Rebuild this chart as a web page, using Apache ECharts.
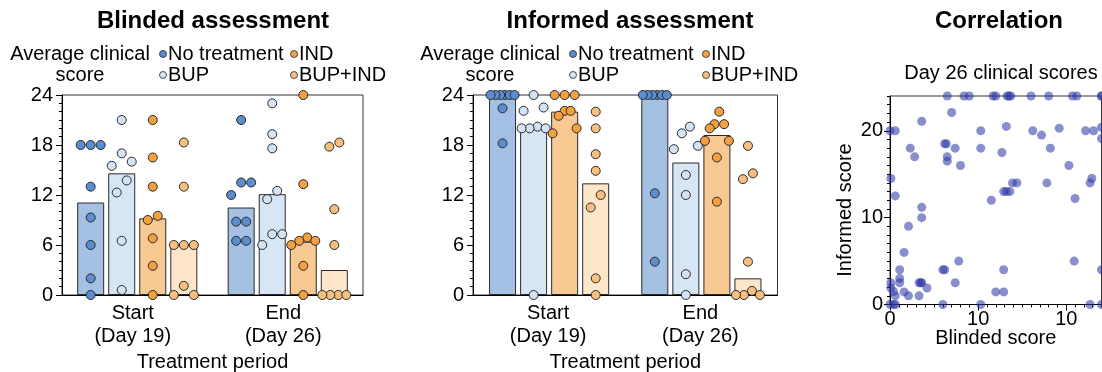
<!DOCTYPE html>
<html>
<head>
<meta charset="utf-8">
<title>Clinical scores</title>
<script src="https://cdn.jsdelivr.net/npm/echarts@6/dist/echarts.min.js"></script>
<style>
  html, body { margin: 0; padding: 0; background: #fff; }
  #chart { width: 1102px; height: 372px; }
</style>
</head>
<body>
<div id="chart"></div>
<script>
// ---- data ----
const periods = ['Start\n(Day 19)', 'End\n(Day 26)'];
const groups = ['No treatment', 'BUP', 'IND', 'BUP+IND'];

// bar heights per group: [Start, End]
const blindedBars = [[11.1, 10.5], [14.6, 12.1], [9.2, 6.4], [6.0, 3.0]];
const informedBars = [[24, 24], [20.0, 15.9], [22.0, 19.2], [13.4, 2.0]];

// individual animals, per group
const blindedStart = [
  [18, 18, 18, 13, 9.3, 6, 2, 0],
  [21, 17, 16, 15.5, 13.75, 12.3, 6.5, 0.6],
  [21, 16.5, 13, 9.5, 9, 6.8, 3.5, 0],
  [18.3, 13, 6, 6, 6, 1.1, 0, 0]
];
const blindedEnd = [
  [21, 13.5, 13.5, 12, 8.8, 8.8, 6.5, 6.5],
  [23, 19.3, 17.6, 12.5, 11.5, 7.3, 7.3, 6],
  [24, 13.3, 6.9, 6.5, 6.5, 6.0, 3.5, 0],
  [18.3, 17.8, 10.3, 6, 0, 0, 0, 0]
];
const informedStart = [
  [24, 24, 24, 24, 24, 24, 22.4, 18.2],
  [24, 22.5, 22.1, 20.2, 20, 20, 20, 0],
  [24, 24, 24, 22.1, 22.1, 21.5, 20, 19.4],
  [22, 20, 16.9, 14.9, 12, 10.5, 2, 0]
];
const informedEnd = [
  [24, 24, 24, 24, 24, 24, 12.2, 4],
  [20.2, 19.4, 17.9, 17.5, 14.4, 12, 2.5, 0],
  [22, 20.5, 20.5, 20, 18.5, 18.5, 16.5, 11.2],
  [17.9, 14.6, 13.9, 4, 0.5, 0, 0, 0]
];

// Day 26 paired scores (blinded, informed)
const day26Blinded = [
  6.5, 8.4, 9.0, 11.7, 12.0, 13.3, 13.5, 13.7, 16.0, 18.0, 20.7, 21.2, 24, 24,
  0, 0.6, 10.3, 16.2, 17.2, 19.2, 22.2, 23.1, 24, 24, 13.2, 3.6, 7.0,
  2.3, 6.2, 6.4, 7.4, 10.3, 18.2, 12.7,
  2.8, 6.5, 6.5, 8.0, 20.3,
  0.1, 13.9, 14.4, 17.8, 22.7, 22.9,
  0.6, 11.5, 12.9, 13.2, 13.6, 21.0,
  3.6, 3.6, 2.1, 1.6,
  1.1, 6.0, 6.2, 7.8, 12.9, 20.9, 24,
  1.1, 1.1, 0.1, 0.1, 3.3, 3.5, 3.6, 4.2, 7.4, 1.6, 12.0, 12.9, 0.6, 2.1, 3.3, 0.4,
  0, 0.4, 0.6, 6.0, 10.3, 22.7, 24
];
const day26Informed = [
  24, 24, 24, 24, 24, 24, 24, 24, 24, 24, 24, 24, 24, 24,
  20, 20, 20, 20, 19.5, 20.3, 20, 20, 20.4, 19.1, 20.5, 21.1, 22.1,
  18, 18.5, 18.5, 18, 18, 18, 17.5,
  17, 17, 16.5, 16, 16,
  14.5, 14, 14, 14, 14, 14.5,
  12.5, 12, 13, 13, 13, 12.2,
  11.2, 10, 9, 6,
  4, 4, 4, 5, 4, 5, 4,
  3, 2.5, 2.5, 1.9, 2.5, 2.5, 2.5, 1.9, 2.5, 1.45, 1.45, 1.45, 1, 1, 1, 1.5,
  0, 0, 0, 0, 0, 0, 0
];

const scoreTicks = [0, 6, 12, 18, 24];
const corrTicks = [0, 10, 20];
const corrXTickLabels = ['0', '10', '10'];
const corrYTickLabels = ['0', '10', '20'];

// ---- styling ----
const FONT = 'Liberation Sans, Arial, Helvetica, sans-serif';
const barColors = ['#a4c1e4', '#d7e6f5', '#f9c993', '#fde6c9'];
const dotColors = ['#5b8dd0', '#d3e3f4', '#f4a040', '#f8c07f'];
const EDGE = '#2a2a2a';

// panel geometry (px)
const panels = [
  { left: 62, top: 95, width: 301, height: 200, title: 'Blinded assessment', titleX: 208,
    legendX: 80, cols: [163, 294], labelPad: [0, 9, 0, 0] },
  { left: 473, top: 95, width: 304.5, height: 200, title: 'Informed assessment', titleX: 625,
    legendX: 490, cols: [573, 706], labelPad: [0, 2, 0, 0] }
];
const corrGrid = { left: 890, top: 96, width: 211.5, height: 208.5 };

const BAR_W = 27;
const BAR_GAP = 0.15;
const DOT = 9;
const ROW_STEP = 10;      // horizontal spacing between dots sharing a row
const ROW_CHAIN = 12.5;   // vertical distance (px) that joins dots into a row
const ROW_HALF = 12;      // max horizontal spread from the bar centre

// spread dots of one group horizontally so they do not overlap
function swarm(values, pxPerUnit) {
  const order = values.map((v, i) => i).sort((a, b) => values[b] - values[a]);
  const offsets = new Array(values.length).fill(0);
  const rows = [];
  let row = [];
  order.forEach(i => {
    if (row.length && (values[row[row.length - 1]] - values[i]) * pxPerUnit > ROW_CHAIN) {
      rows.push(row);
      row = [];
    }
    row.push(i);
  });
  if (row.length) rows.push(row);
  rows.forEach(r => {
    const n = r.length;
    const half = (n - 1) / 2 * ROW_STEP;
    const k = half > ROW_HALF ? ROW_HALF / half : 1;
    const slots = r.map((_, j) => (j - (n - 1) / 2) * ROW_STEP * k)
      .sort((a, b) => Math.abs(a) - Math.abs(b) || b - a);
    r.forEach((i, j) => { offsets[i] = slots[j]; });
  });
  return offsets;
}

function dotSeries(panelIdx, startSets, endSets) {
  const p = panels[panelIdx];
  const catW = p.width / 2;
  const pxPerUnit = p.height / 24;
  return groups.map((name, g) => {
    const barOffset = (g - 1.5) * BAR_W * (1 + BAR_GAP);
    const data = [];
    [startSets[g], endSets[g]].forEach((vals, period) => {
      const off = swarm(vals, pxPerUnit);
      vals.forEach((v, i) => {
        data.push([period + 0.5 + (barOffset + off[i]) / catW, v]);
      });
    });
    return {
      name: name,
      type: 'scatter',
      xAxisIndex: panelIdx * 2 + 1,
      yAxisIndex: panelIdx,
      symbol: 'circle',
      symbolSize: DOT,
      z: 5,
      clip: false,
      itemStyle: { color: dotColors[g], borderColor: EDGE, borderWidth: 1, opacity: 1 },
      emphasis: { disabled: true },
      data: data
    };
  });
}

function barSeries(panelIdx, bars) {
  return groups.map((name, g) => ({
    name: name,
    type: 'bar',
    xAxisIndex: panelIdx * 2,
    yAxisIndex: panelIdx,
    barWidth: BAR_W,
    barGap: (BAR_GAP * 100) + '%',
    z: 2,
    itemStyle: { color: barColors[g], borderColor: EDGE, borderWidth: 1 },
    emphasis: { disabled: true },
    data: bars[g]
  }));
}

const labelStyle = { color: '#000', fontFamily: FONT, fontSize: 20 };

const xAxes = [];
const yAxes = [];
panels.forEach((p, i) => {
  xAxes.push({
    gridIndex: i,
    type: 'category',
    data: periods,
    axisTick: { show: false },
    axisLine: { lineStyle: { color: '#000', width: 1 } },
    axisLabel: Object.assign({ margin: 7, lineHeight: 23, padding: p.labelPad }, labelStyle),
    name: 'Treatment period',
    nameLocation: 'middle',
    nameGap: 52,
    nameTextStyle: Object.assign({ lineHeight: 20 }, labelStyle)
  });
  xAxes.push({ gridIndex: i, type: 'value', min: 0, max: 2, show: false });
  yAxes.push({
    gridIndex: i,
    type: 'value',
    min: scoreTicks[0],
    max: scoreTicks[scoreTicks.length - 1],
    interval: scoreTicks[1] - scoreTicks[0],
    axisLine: { show: true, lineStyle: { color: '#000', width: 1 } },
    axisTick: { show: true, length: 6, lineStyle: { color: '#000' } },
    minorTick: { show: true, splitNumber: 6, length: 3, lineStyle: { color: '#000' } },
    splitLine: { show: false },
    axisLabel: Object.assign({ margin: 9 }, labelStyle)
  });
});

// correlation panel: fine ticks every unit, longer ticks at labelled values
xAxes.push({
  gridIndex: 2, type: 'value', position: 'bottom', min: 0, max: 24, interval: 1,
  axisLine: { show: true, lineStyle: { color: '#000' } },
  axisTick: { show: true, length: 3, lineStyle: { color: '#000' } },
  splitLine: { show: false },
  axisLabel: Object.assign({
    margin: 5,
    customValues: corrTicks,
    formatter: v => corrXTickLabels[corrTicks.indexOf(v)]
  }, labelStyle),
  name: 'Blinded score', nameLocation: 'middle', nameGap: 24, nameMoveOverlap: false,
  nameTextStyle: Object.assign({ lineHeight: 20 }, labelStyle)
});
xAxes.push({
  gridIndex: 2, type: 'value', position: 'bottom', offset: 0, min: 0, max: 24,
  axisLine: { show: false },
  axisTick: { show: true, length: 6, customValues: corrTicks, lineStyle: { color: '#000' } },
  axisLabel: { show: false },
  splitLine: { show: false }
});
yAxes.push({
  gridIndex: 2, type: 'value', position: 'left', min: 0, max: 24, interval: 1,
  axisLine: { show: true, lineStyle: { color: '#000' } },
  axisTick: { show: true, length: 3, lineStyle: { color: '#000' } },
  splitLine: { show: false },
  axisLabel: Object.assign({
    margin: 7,
    customValues: corrTicks,
    formatter: v => corrYTickLabels[corrTicks.indexOf(v)]
  }, labelStyle)
});
yAxes.push({
  gridIndex: 2, type: 'value', position: 'left', offset: 0, min: 0, max: 24,
  axisLine: { show: false },
  axisTick: { show: true, length: 6, customValues: corrTicks, lineStyle: { color: '#000' } },
  axisLabel: { show: false },
  splitLine: { show: false }
});

// legends and panel captions
const graphic = [];
panels.forEach(p => {
  graphic.push({ type: 'text', x: p.legendX, y: 54, silent: true,
    style: { text: 'Average clinical', fontFamily: FONT, fontSize: 20, fill: '#000', align: 'center', verticalAlign: 'middle' } });
  graphic.push({ type: 'text', x: p.legendX, y: 75, silent: true,
    style: { text: 'score', fontFamily: FONT, fontSize: 20, fill: '#000', align: 'center', verticalAlign: 'middle' } });
  groups.forEach((name, g) => {
    const cx = p.cols[g >= 2 ? 1 : 0];
    const cy = g % 2 === 0 ? 54 : 75;
    graphic.push({ type: 'circle', silent: true, shape: { cx: cx, cy: cy, r: 3.5 },
      style: { fill: dotColors[g], stroke: EDGE, lineWidth: 0.8 } });
    graphic.push({ type: 'text', x: cx + 5, y: cy, silent: true,
      style: { text: name, fontFamily: FONT, fontSize: 20, fill: '#000', align: 'left', verticalAlign: 'middle' } });
  });
});
graphic.push({ type: 'text', x: 845, y: 210, rotation: Math.PI / 2, silent: true,
  style: { text: 'Informed score', fontFamily: FONT, fontSize: 20, fill: '#000', align: 'center', verticalAlign: 'middle' } });

const titleStyle = { fontFamily: FONT, fontSize: 24, fontWeight: 'bold', color: '#000' };

function gridOf(g) {
  return {
    left: g.left, top: g.top, width: g.width, height: g.height,
    outerBoundsMode: 'none', containLabel: false,
    show: true, borderColor: '#333', borderWidth: 1, backgroundColor: 'transparent'
  };
}

const option = {
  animation: false,
  backgroundColor: '#fff',
  title: [
    { text: panels[0].title, left: panels[0].titleX, top: 4, textAlign: 'center', textStyle: titleStyle },
    { text: panels[1].title, left: panels[1].titleX, top: 4, textAlign: 'center', textStyle: titleStyle },
    { text: 'Correlation', left: 994, top: 4, textAlign: 'center', textStyle: titleStyle },
    { text: 'Day 26 clinical scores', left: 996, top: 58, textAlign: 'center',
      textStyle: { fontFamily: FONT, fontSize: 20, fontWeight: 'normal', color: '#000' } }
  ],
  grid: [gridOf(panels[0]), gridOf(panels[1]), gridOf(corrGrid)],
  xAxis: xAxes,
  yAxis: yAxes,
  graphic: graphic,
  series: [].concat(
    barSeries(0, blindedBars),
    dotSeries(0, blindedStart, blindedEnd),
    barSeries(1, informedBars),
    dotSeries(1, informedStart, informedEnd),
    [{
      name: 'Day 26',
      type: 'scatter',
      xAxisIndex: 4,
      yAxisIndex: 2,
      symbol: 'circle',
      symbolSize: 9,
      clip: false,
      itemStyle: { color: 'rgba(45,55,166,0.7)' },
      emphasis: { disabled: true },
      data: day26Blinded.map((b, i) => [b, day26Informed[i]])
    }]
  )
};

const chart = echarts.init(document.getElementById('chart'), null, { renderer: 'canvas' });
chart.setOption(option);
</script>
</body>
</html>
